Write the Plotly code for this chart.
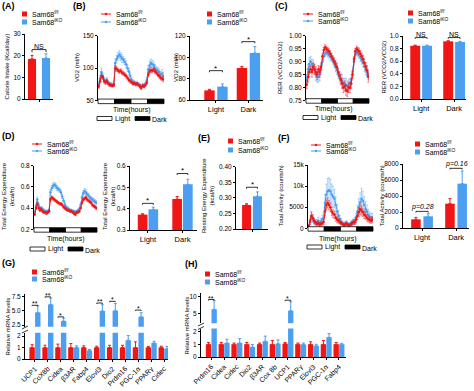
import plotly.graph_objects as go

W, H = 474, 391
RED = "#F01616"
BLUE = "#4C9FF0"
FONT = "Arial, Liberation Sans, sans-serif"

# ---------------- data ----------------
hours = [h + 0.5 for h in range(48)]
groups = ["Sam68<sup>f/f</sup>", "Sam68<sup>iKO</sup>"]
phases = ["Light", "Dark"]

# (A) calorie intake
a_red, a_red_err = [18.5], [1.6]
a_blue, a_blue_err = [18.9], [1.9]

# (B) VO2 time course
b_red = [72, 80, 88, 86, 80, 78, 80, 76, 74, 74, 73, 74,
         100, 99, 97, 95, 96, 93, 92, 90, 88, 85, 82, 80,
         78, 76, 77, 75, 76, 74, 72, 70, 73, 72, 74, 78,
         90, 95, 97, 96, 98, 95, 93, 90, 88, 85, 84, 83]
b_red_err = [3, 3, 4, 3, 3, 3, 3, 2, 2, 2, 2, 2, 4, 4, 3, 3, 3, 3, 3, 3, 3, 3, 3, 3,
             2, 2, 2, 2, 2, 2, 3, 3, 2, 2, 2, 3, 3, 4, 4, 3, 3, 3, 3, 3, 3, 3, 3, 4]
b_blue = [74, 84, 94, 88, 82, 80, 82, 78, 76, 75, 74, 76,
          108, 114, 118, 121, 118, 115, 113, 110, 106, 100, 95, 88,
          82, 79, 78, 76, 77, 75, 73, 71, 74, 73, 76, 82,
          98, 104, 108, 106, 104, 100, 98, 96, 94, 90, 92, 88]
b_blue_err = [4, 5, 6, 5, 4, 4, 4, 3, 3, 3, 3, 4, 6, 6, 6, 6, 6, 6, 5, 5, 5, 5, 5, 5,
              3, 3, 3, 3, 3, 3, 3, 3, 3, 3, 3, 4, 6, 7, 6, 6, 6, 6, 5, 5, 5, 5, 6, 6]
# (B) VO2 bars
bb_red, bb_red_err = [69, 90], [1.0, 1.5]
bb_blue, bb_blue_err = [72.5, 104], [2.5, 6]

# (C) RER time course
c_red = [0.81, 0.84, 0.86, 0.87, 0.86, 0.88, 0.87, 0.86, 0.85, 0.87, 0.86, 0.88,
         0.92, 0.945, 0.955, 0.95, 0.945, 0.94, 0.93, 0.92, 0.91, 0.90, 0.89, 0.88,
         0.86, 0.845, 0.83, 0.815, 0.80, 0.805, 0.79, 0.785, 0.80, 0.80, 0.815, 0.85,
         0.91, 0.94, 0.95, 0.945, 0.94, 0.93, 0.92, 0.91, 0.895, 0.88, 0.865, 0.84]
c_red_err = [0.015, 0.02, 0.02, 0.015, 0.02, 0.015, 0.02, 0.02, 0.02, 0.015, 0.02, 0.015,
             0.01, 0.01, 0.01, 0.01, 0.01, 0.01, 0.012, 0.012, 0.012, 0.015, 0.015, 0.015,
             0.015, 0.015, 0.02, 0.02, 0.02, 0.02, 0.02, 0.02, 0.02, 0.02, 0.02, 0.015,
             0.01, 0.01, 0.01, 0.01, 0.012, 0.012, 0.012, 0.015, 0.015, 0.015, 0.02, 0.02]
c_blue = [0.83, 0.87, 0.89, 0.90, 0.89, 0.88, 0.87, 0.85, 0.84, 0.84, 0.85, 0.87,
          0.90, 0.92, 0.93, 0.935, 0.93, 0.925, 0.92, 0.915, 0.905, 0.895, 0.88, 0.87,
          0.855, 0.84, 0.835, 0.825, 0.815, 0.815, 0.81, 0.805, 0.81, 0.815, 0.83, 0.86,
          0.90, 0.925, 0.935, 0.93, 0.925, 0.915, 0.905, 0.895, 0.88, 0.87, 0.86, 0.85]
c_blue_err = [0.02, 0.02, 0.025, 0.02, 0.02, 0.025, 0.02, 0.025, 0.02, 0.02, 0.025, 0.02,
              0.015, 0.015, 0.012, 0.012, 0.012, 0.012, 0.015, 0.015, 0.015, 0.015, 0.02, 0.02,
              0.02, 0.02, 0.02, 0.025, 0.02, 0.02, 0.025, 0.02, 0.02, 0.02, 0.02, 0.02,
              0.015, 0.012, 0.012, 0.012, 0.012, 0.015, 0.015, 0.015, 0.02, 0.02, 0.02, 0.02]
# (C) RER bars
cb_red, cb_red_err = [0.845, 0.915], [0.01, 0.01]
cb_blue, cb_blue_err = [0.845, 0.905], [0.01, 0.01]

# (D) total energy expenditure time course
d_red = [0.34, 0.40, 0.44, 0.40, 0.38, 0.39, 0.37, 0.36, 0.36, 0.35, 0.36, 0.37,
         0.48, 0.50, 0.49, 0.48, 0.47, 0.46, 0.45, 0.44, 0.44, 0.43, 0.41, 0.40,
         0.39, 0.38, 0.38, 0.37, 0.37, 0.36, 0.35, 0.34, 0.36, 0.36, 0.37, 0.40,
         0.45, 0.48, 0.49, 0.50, 0.48, 0.47, 0.46, 0.45, 0.43, 0.42, 0.41, 0.40]
d_red_err = [0.012, 0.015, 0.015, 0.012, 0.012, 0.012, 0.01, 0.01, 0.01, 0.01, 0.01, 0.01,
             0.015, 0.015, 0.015, 0.015, 0.012, 0.012, 0.012, 0.012, 0.012, 0.012, 0.012, 0.012,
             0.01, 0.01, 0.01, 0.01, 0.01, 0.01, 0.012, 0.012, 0.01, 0.01, 0.01, 0.012,
             0.015, 0.015, 0.015, 0.015, 0.015, 0.012, 0.012, 0.012, 0.012, 0.012, 0.012, 0.015]
d_blue = [0.36, 0.42, 0.48, 0.43, 0.40, 0.40, 0.39, 0.38, 0.37, 0.37, 0.37, 0.38,
          0.55, 0.59, 0.61, 0.62, 0.61, 0.59, 0.58, 0.57, 0.55, 0.51, 0.47, 0.43,
          0.41, 0.40, 0.39, 0.38, 0.38, 0.37, 0.37, 0.36, 0.37, 0.38, 0.39, 0.43,
          0.50, 0.54, 0.56, 0.55, 0.53, 0.52, 0.50, 0.49, 0.48, 0.47, 0.46, 0.45]
d_blue_err = [0.015, 0.02, 0.025, 0.02, 0.015, 0.015, 0.015, 0.012, 0.012, 0.012, 0.012, 0.015,
              0.025, 0.025, 0.025, 0.025, 0.025, 0.025, 0.02, 0.02, 0.02, 0.02, 0.02, 0.02,
              0.015, 0.012, 0.012, 0.012, 0.012, 0.012, 0.012, 0.012, 0.012, 0.012, 0.015, 0.02,
              0.025, 0.025, 0.025, 0.025, 0.02, 0.02, 0.02, 0.02, 0.02, 0.02, 0.02, 0.02]
# (D) bars
db_red, db_red_err = [0.372, 0.445], [0.004, 0.012]
db_blue, db_blue_err = [0.397, 0.514], [0.01, 0.024]

# (E) resting energy expenditure
e_red, e_red_err = [0.277], [0.004]
e_blue, e_blue_err = [0.305], [0.014]

# (F) total activity time course
f_red = [500, 1500, 3000, 2500, 1800, 1500, 1000, 1200, 900, 1000, 1200, 1500,
         4000, 5500, 6000, 5500, 5000, 4000, 3500, 3200, 2500, 2000, 1800, 1500,
         1200, 1000, 800, 900, 1100, 800, 700, 900, 1200, 1500, 1400, 2000,
         3000, 3800, 4500, 4200, 3800, 3200, 3000, 2500, 2200, 2000, 1800, 2000]
f_red_err = [300, 600, 900, 800, 600, 500, 400, 500, 400, 400, 500, 600,
             1000, 1200, 1200, 1100, 1000, 1000, 900, 900, 800, 700, 600, 500,
             400, 400, 300, 400, 400, 300, 300, 400, 500, 600, 500, 700,
             900, 1000, 1200, 1100, 1000, 900, 900, 800, 700, 700, 600, 700]
f_blue = [600, 1800, 2800, 2200, 1600, 1200, 1500, 1800, 1200, 1600, 2200, 2500,
          6000, 8000, 8800, 9000, 8800, 8000, 7500, 7000, 5500, 4000, 3000, 2200,
          1600, 1200, 1000, 1100, 1300, 900, 900, 1200, 1300, 1500, 1800, 2500,
          4000, 5000, 6200, 7000, 6500, 5500, 4500, 4000, 3200, 2800, 2500, 2600]
f_blue_err = [400, 800, 1000, 900, 700, 500, 600, 800, 600, 700, 900, 1000,
              2000, 2500, 3000, 3000, 2800, 2500, 2500, 2200, 2000, 1600, 1200, 900,
              700, 500, 400, 500, 500, 400, 400, 500, 600, 700, 800, 1000,
              1500, 2000, 2200, 2500, 2300, 2000, 1800, 1500, 1300, 1100, 1000, 1000]
# (F) bars
fb_red, fb_red_err = [1080, 3040], [250, 630]
fb_blue, fb_blue_err = [1460, 5540], [330, 1580]

# (G) relative mRNA, panel G
g_genes = ["UCP1", "CoX8b", "Cidea", "β3AR", "Fabp4", "Elovl3", "Dio2",
           "Prdm16", "PGC-1α", "PPARγ", "Cidec"]
g_red = [1.0, 1.0, 1.0, 1.0, 1.0, 1.0, 1.0, 1.0, 1.0, 1.0, 1.0]
g_red_err = [0.25, 0.2, 0.3, 0.35, 0.15, 0.12, 0.2, 0.2, 0.5, 0.1, 0.12]
g_blue = [4.7, 6.15, 3.2, 1.0, 0.75, 5.0, 5.05, 1.65, 3.97, 1.4, 0.9]
g_blue_err = [1.2, 1.1, 0.5, 0.15, 0.08, 1.1, 1.25, 0.4, 0.7, 0.15, 0.2]

# (H) relative mRNA, panel H
h_genes = ["Prdm16", "Cidea", "Cidec", "Dio2", "β3AR", "Cox 8b", "UCP1",
           "PPARγ", "Elovl3", "PGC-1α", "Fabp4"]
h_red = [1.0, 1.0, 1.0, 1.0, 1.0, 1.0, 1.05, 1.0, 1.0, 1.0, 1.0]
h_red_err = [0.15, 0.15, 0.1, 0.15, 0.1, 0.3, 0.1, 0.1, 0.2, 0.3, 0.15]
h_blue = [6.35, 1.1, 1.1, 0.78, 1.25, 1.05, 5.96, 0.98, 0.88, 1.55, 1.0]
h_blue_err = [2.5, 0.3, 0.35, 0.2, 0.4, 0.3, 2.6, 0.12, 0.12, 0.3, 0.08]

# ---------------- helpers ----------------
def fx(p):
    return p / W

def fy(p):
    return 1 - p / H

def xd(a, b):
    return [a / W, b / W]

def yd(top, bot):
    return [1 - bot / H, 1 - top / H]

layout = dict(
    width=W, height=H, margin=dict(l=0, r=0, t=0, b=0, pad=0),
    paper_bgcolor="white", plot_bgcolor="white",
    font=dict(family=FONT, size=7, color="black"),
    showlegend=False, barmode="overlay",
)
shapes = []
annots = []
fig = go.Figure()

TICKF = dict(size=6.5, color="black", family=FONT)


def note(text, x, y, xanchor="center", size=7, angle=0):
    annots.append(dict(text=text, x=fx(x), y=fy(y), xref="paper", yref="paper",
                       showarrow=False, xanchor=xanchor, yanchor="middle",
                       textangle=angle, font=dict(size=size), borderpad=0))


def ydict(dom, rng, tickvals, ticktext, anchor):
    d = dict(domain=dom, range=rng, showline=True, linecolor="black", linewidth=1,
             ticks="outside", ticklen=2, tickwidth=1, tickcolor="black",
             tickvals=tickvals, tickfont=TICKF, showgrid=False, zeroline=False,
             anchor=anchor, automargin=False)
    if ticktext is not None:
        d["ticktext"] = ticktext
    return d


def yaxis(n, dom, rng, tickvals, ticktext=None):
    layout["yaxis" + ("" if n == 1 else str(n))] = ydict(dom, rng, tickvals, ticktext,
                                                         "x" if n == 1 else f"x{n}")


def xaxis(n, dom, rng, tickvals=None, ticktext=None, visible=True,
          tickangle=0, fsize=7.5):
    d = dict(domain=dom, range=rng, showgrid=False, zeroline=False,
             anchor="y" if n == 1 else f"y{n}", visible=visible, automargin=False)
    if visible:
        d.update(showline=True, linecolor="black", linewidth=1, ticks="outside",
                 ticklen=2, tickwidth=1, tickcolor="black", tickvals=tickvals,
                 ticktext=ticktext, tickangle=tickangle,
                 tickfont=dict(size=fsize, color="black", family=FONT))
    layout["xaxis" + ("" if n == 1 else str(n))] = d


def ref(n):
    return ("x" if n == 1 else f"x{n}"), ("y" if n == 1 else f"y{n}")


def bars(n, vals_r, err_r, vals_b, err_b, off, width, yn=None):
    xr, yr = ref(n)
    if yn is not None:
        yr = f"y{yn}"
    pos = list(range(len(vals_r)))
    for vals, err, col, sgn in ((vals_r, err_r, RED, -1), (vals_b, err_b, BLUE, 1)):
        fig.add_trace(go.Bar(
            x=[p + sgn * off for p in pos], y=vals, width=width,
            marker=dict(color=col, line=dict(width=0)),
            error_y=dict(type="data", array=err, arrayminus=[0] * len(err), symmetric=False,
                         color=col, thickness=1, width=1.5),
            xaxis=xr, yaxis=yr, cliponaxis=True))


def ts(n, red, red_err, blue, blue_err):
    xr, yr = ref(n)
    for vals, err, col, ecol in ((blue, blue_err, BLUE, "rgba(76,159,240,0.55)"),
                                 (red, red_err, RED, "rgba(240,22,22,0.6)")):
        fig.add_trace(go.Scatter(
            x=hours, y=vals, mode="lines+markers",
            line=dict(color=col, width=1), marker=dict(color=col, size=2.5),
            error_y=dict(type="data", array=err, color=ecol, thickness=0.8, width=1),
            xaxis=xr, yaxis=yr))
    for i in range(4):
        dark = i % 2 == 1
        shapes.append(dict(type="rect", xref=f"{xr} domain", yref=f"{yr} domain",
                           x0=i / 4, x1=(i + 1) / 4, y0=-0.045, y1=0.025,
                           fillcolor="black" if dark else "white",
                           line=dict(color="black", width=0.8)))


def light_dark_legend(x, y, cx, ty):
    note("Time(hours)", cx, ty)
    shapes.append(dict(type="rect", xref="paper", yref="paper", x0=fx(x), x1=fx(x + 15),
                       y0=fy(y + 2), y1=fy(y - 2), fillcolor="white",
                       line=dict(color="black", width=0.8)))
    note("Light", x + 17, y, xanchor="left")
    shapes.append(dict(type="rect", xref="paper", yref="paper", x0=fx(x + 38), x1=fx(x + 53),
                       y0=fy(y + 2), y1=fy(y - 2), fillcolor="black",
                       line=dict(color="black", width=0.8)))
    note("Dark", x + 54, y + 1, xanchor="left")


def sq_legend(x, y1, y2):
    for yy, col, txt in ((y1, RED, groups[0]), (y2, BLUE, groups[1])):
        shapes.append(dict(type="rect", xref="paper", yref="paper", x0=fx(x), x1=fx(x + 5),
                           y0=fy(yy + 2.5), y1=fy(yy - 2.5), fillcolor=col, line=dict(width=0)))
        note(txt, x + 9, yy, xanchor="left")


def line_legend(x, y1, y2):
    for yy, col, txt in ((y1, RED, groups[0]), (y2, BLUE, groups[1])):
        shapes.append(dict(type="line", xref="paper", yref="paper", x0=fx(x), x1=fx(x + 10),
                           y0=fy(yy), y1=fy(yy), line=dict(color=col, width=1)))
        shapes.append(dict(type="circle", xref="paper", yref="paper", x0=fx(x + 3.8),
                           x1=fx(x + 6.2), y0=fy(yy + 1.2), y1=fy(yy - 1.2), fillcolor=col,
                           line=dict(width=0)))
        note(txt, x + 14, yy, xanchor="left")


def ytitle(text, x, ytop, ybot, size=6):
    note(text, x, (ytop + ybot) / 2, size=size, angle=-90)


def panel(text, x, y):
    note(f"<b>{text}</b>", x, y, xanchor="left", size=9)


def bracket(n, x1, x2, yv, drop, label, yn=None, size=8, italic=False, shift=0):
    xr, yr = ref(n)
    if yn is not None:
        yr = f"y{yn}"
    shapes.append(dict(type="path", xref=xr, yref=yr,
                       path=f"M {x1},{yv - drop} L {x1},{yv} L {x2},{yv} L {x2},{yv - drop}",
                       line=dict(color="black", width=0.8)))
    txt = f"<i>{label}</i>" if italic else label
    annots.append(dict(text=txt, x=(x1 + x2) / 2, y=yv, xref=xr, yref=yr, showarrow=False,
                       xanchor="center", yanchor="bottom", yshift=shift, borderpad=0,
                       font=dict(size=size)))


# ---------------- (A) ----------------
xaxis(1, xd(25, 53), [-0.5, 0.5], [0], [" "])
yaxis(1, yd(34, 99), [0, 30], [0, 10, 20, 30])
bars(1, a_red, a_red_err, a_blue, a_blue_err, 0.25, 0.29)
bracket(1, -0.25, 0.25, 22.8, 1.2, "NS", size=7, shift=-1)
sq_legend(22, 14, 22)
ytitle("Calorie Intake (Kcal/day)", 6, 34, 99)
panel("(A)", 1, 6)

# ---------------- (B) ----------------
xaxis(2, xd(98, 164), [0, 48], visible=False)
yaxis(2, yd(35.7, 100.7), [50, 150], [50, 100, 150])
ts(2, b_red, b_red_err, b_blue, b_blue_err)
line_legend(101, 14, 22)
light_dark_legend(97, 118.5, 131, 110)
ytitle("VO2 (ml/h)", 77, 36, 100)
panel("(B)", 72, 6)

xaxis(3, xd(190, 263), [-0.8, 1.45], [0, 1], phases)
yaxis(3, yd(36, 100), [60, 120], [60, 80, 100, 120])
bars(3, bb_red, bb_red_err, bb_blue, bb_blue_err, 0.2, 0.32)
bracket(3, -0.2, 0.2, 87.5, 1.5, "*", size=8, shift=-3)
bracket(3, 0.8, 1.2, 114.7, 1.5, "*", size=8, shift=-3)
sq_legend(207, 14, 22)
ytitle("VO2 (ml/h)", 176, 36, 100)

# ---------------- (C) ----------------
xaxis(4, xd(306, 369), [0, 48], visible=False)
yaxis(4, yd(35.7, 100.3), [0.75, 1.0], [0.75, 0.80, 0.85, 0.90, 0.95, 1.00],
      ["0.75", "0.80", "0.85", "0.90", "0.95", "1.00"])
ts(4, c_red, c_red_err, c_blue, c_blue_err)
line_legend(303, 14, 21)
light_dark_legend(303, 117.5, 333, 109)
ytitle("RER (VCO2/VCO2)", 280, 36, 100)
panel("(C)", 274, 6)

xaxis(5, xd(403, 466), [-0.55, 1.36], [0, 1], phases)
yaxis(5, yd(36, 99), [0, 1.0], [0, 0.2, 0.4, 0.6, 0.8, 1.0],
      ["0.0", "0.2", "0.4", "0.6", "0.8", "1.0"])
bars(5, cb_red, cb_red_err, cb_blue, cb_blue_err, 0.18, 0.3)
bracket(5, -0.18, 0.18, 0.975, 0.02, "NS", size=7, shift=-1)
bracket(5, 0.82, 1.18, 0.975, 0.02, "NS", size=7, shift=-1)
sq_legend(408, 13, 21)
ytitle("RER (VCO2/VCO2)", 383, 36, 99)

# ---------------- (D) ----------------
xaxis(6, xd(34, 97), [0, 48], visible=False)
yaxis(6, yd(165.7, 229.3), [0.2, 0.8], [0.2, 0.4, 0.6, 0.8])
ts(6, d_red, d_red_err, d_blue, d_blue_err)
line_legend(32, 144, 151)
light_dark_legend(30, 249, 65, 239)
ytitle("Total Energy Expenditure<br>(kcal/h)", 8, 160, 232)
panel("(D)", 1, 136)

xaxis(7, xd(130, 197), [-0.52, 1.42], [0, 1], phases)
yaxis(7, yd(166, 230), [0.3, 0.6], [0.3, 0.4, 0.5, 0.6])
bars(7, db_red, db_red_err, db_blue, db_blue_err, 0.155, 0.28)
bracket(7, -0.155, 0.155, 0.425, 0.007, "*", size=8, shift=-3)
bracket(7, 0.845, 1.155, 0.565, 0.007, "*", size=8, shift=-3)
ytitle("Total Energy Expenditure<br>(kcal/h)", 109, 160, 232)

# ---------------- (E) ----------------
xaxis(8, xd(236, 268), [-0.5, 0.5], [0], [" "])
yaxis(8, yd(166.7, 229), [0.2, 0.4], [0.20, 0.25, 0.30, 0.35, 0.40],
      ["0.20", "0.25", "0.30", "0.35", "0.40"])
bars(8, e_red, e_red_err, e_blue, e_blue_err, 0.17, 0.28)
bracket(8, -0.17, 0.17, 0.334, 0.005, "*", size=8, shift=-3)
sq_legend(228, 141, 150)
ytitle("Resting Energy Expenditure<br>(kcal/h)", 208, 160, 232)
panel("(E)", 197, 138)

# ---------------- (F) ----------------
xaxis(9, xd(308, 373), [0, 48], visible=False)
yaxis(9, yd(165, 228.3), [0, 15000], [0, 5000, 10000, 15000])
ts(9, f_red, f_red_err, f_blue, f_blue_err)
line_legend(311, 145, 151)
light_dark_legend(307, 247, 337, 239)
ytitle("Total Activity (counts/h)", 280, 164, 229)
panel("(F)", 277, 138)

xaxis(10, xd(403, 469), [-0.56, 1.38], [0, 1], phases)
yaxis(10, yd(164, 228), [0, 8000], [0, 2000, 4000, 6000, 8000])
bars(10, fb_red, fb_red_err, fb_blue, fb_blue_err, 0.18, 0.28)
bracket(10, -0.18, 0.18, 2080, 150, "p=0.28", size=7, italic=True, shift=-1)
bracket(10, 0.82, 1.18, 7460, 150, "p=0.16", size=7, italic=True, shift=-1)
sq_legend(415, 144, 152)
ytitle("Total Activity (counts/h)", 381, 164, 229)

# ---------------- (G) ----------------
g_pos = list(range(len(g_genes)))
xaxis(11, xd(25, 168), [-0.77, 10.3], g_pos, g_genes, tickangle=-45, fsize=7)
yaxis(11, yd(332.7, 359), [0, 2.3], [0, 1, 2])
layout["yaxis12"] = ydict(yd(294.3, 326.7), [2.2, 7.95], [2.5, 5.0, 7.5],
                          ["2.5", "5.0", "7.5"], "x11")
bars(11, g_red, g_red_err, g_blue, g_blue_err, 0.22, 0.42)
bars(11, g_red, g_red_err, g_blue, g_blue_err, 0.22, 0.42, yn=12)
for gi, yv, lab in ((0, 6.0, "**"), (1, 7.5, "**"), (2, 3.95, "*"),
                    (5, 6.4, "**"), (6, 6.7, "*"), (8, 5.15, "*")):
    bracket(11, gi - 0.22, gi + 0.22, yv, 0.15, lab, yn=12, size=7, shift=-3)
sq_legend(32, 272, 279)
ytitle("Relative mRNA levels", 7, 294, 359)
panel("(G)", 1, 263)
for yy in (327.5, 331.5):
    shapes.append(dict(type="line", xref="paper", yref="paper", x0=fx(22), x1=fx(28),
                       y0=fy(yy + 1.5), y1=fy(yy - 1.5), line=dict(color="black", width=0.8)))

# ---------------- (H) ----------------
h_pos = list(range(len(h_genes)))
xaxis(13, xd(201, 346), [-0.81, 10.55], h_pos, h_genes, tickangle=-45, fsize=7)
yaxis(13, yd(328.5, 357), [0, 2.25], [0, 1, 2])
layout["yaxis14"] = ydict(yd(293.3, 323.3), [2.3, 11.0], [5, 10], None, "x13")
bars(13, h_red, h_red_err, h_blue, h_blue_err, 0.22, 0.42)
bars(13, h_red, h_red_err, h_blue, h_blue_err, 0.22, 0.42, yn=14)
for hi, yv, lab in ((0, 9.2, "**"), (6, 9.0, "*")):
    bracket(13, hi - 0.22, hi + 0.22, yv, 0.3, lab, yn=14, size=7, shift=-3)
sq_legend(205, 274, 282)
ytitle("Relative mRNA levels", 186, 294, 357)
panel("(H)", 184, 264)
for yy in (324.5, 328):
    shapes.append(dict(type="line", xref="paper", yref="paper", x0=fx(198), x1=fx(204),
                       y0=fy(yy + 1.5), y1=fy(yy - 1.5), line=dict(color="black", width=0.8)))

layout["shapes"] = shapes
layout["annotations"] = annots
fig.update_layout(**layout)
fig.write_html("out.html",
               config={"displayModeBar": False},
               post_script="document.body.style.margin='0px';"
                           "document.body.style.padding='0px';"
                           "document.body.style.overflow='hidden';")
